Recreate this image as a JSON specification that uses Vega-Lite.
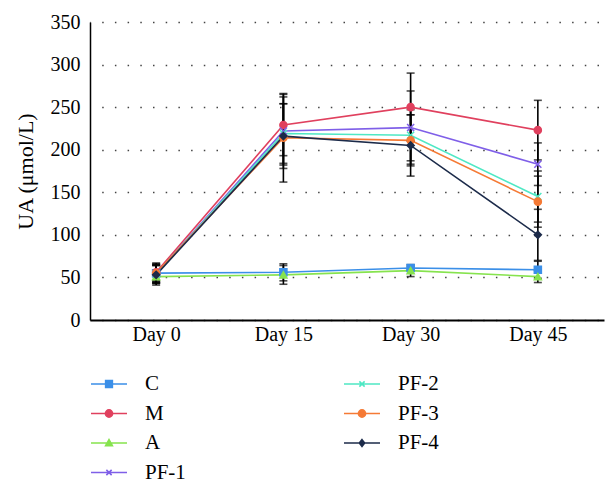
{
  "$schema": "https://vega.github.io/schema/vega-lite/v6.json",
  "width": 514,
  "height": 298,
  "autosize": "none",
  "padding": {"left": 90, "top": 22, "right": 10, "bottom": 171},
  "config": {"view": {"stroke": null}, "font": "Liberation Serif"},
  "data": {
    "values": [
      {"group": "C", "day": "Day 0", "v": 55, "sd": 12},
      {"group": "C", "day": "Day 15", "v": 56, "sd": 10},
      {"group": "C", "day": "Day 30", "v": 61, "sd": 2},
      {"group": "C", "day": "Day 45", "v": 59, "sd": 10},
      {"group": "M", "day": "Day 0", "v": 56, "sd": 10},
      {"group": "M", "day": "Day 15", "v": 229, "sd": 36},
      {"group": "M", "day": "Day 30", "v": 250, "sd": 40},
      {"group": "M", "day": "Day 45", "v": 223, "sd": 35},
      {"group": "A", "day": "Day 0", "v": 51, "sd": 8},
      {"group": "A", "day": "Day 15", "v": 53, "sd": 11},
      {"group": "A", "day": "Day 30", "v": 58, "sd": 7},
      {"group": "A", "day": "Day 45", "v": 51, "sd": 7},
      {"group": "PF-1", "day": "Day 0", "v": 54, "sd": 10},
      {"group": "PF-1", "day": "Day 15", "v": 222, "sd": 40},
      {"group": "PF-1", "day": "Day 30", "v": 226, "sd": 43},
      {"group": "PF-1", "day": "Day 45", "v": 183, "sd": 25},
      {"group": "PF-2", "day": "Day 0", "v": 54, "sd": 10},
      {"group": "PF-2", "day": "Day 15", "v": 219, "sd": 35},
      {"group": "PF-2", "day": "Day 30", "v": 217, "sd": 30},
      {"group": "PF-2", "day": "Day 45", "v": 145, "sd": 30},
      {"group": "PF-3", "day": "Day 0", "v": 55, "sd": 10},
      {"group": "PF-3", "day": "Day 15", "v": 214, "sd": 52},
      {"group": "PF-3", "day": "Day 30", "v": 211, "sd": 30},
      {"group": "PF-3", "day": "Day 45", "v": 139, "sd": 30},
      {"group": "PF-4", "day": "Day 0", "v": 53, "sd": 12},
      {"group": "PF-4", "day": "Day 15", "v": 216, "sd": 38},
      {"group": "PF-4", "day": "Day 30", "v": 205, "sd": 36},
      {"group": "PF-4", "day": "Day 45", "v": 100, "sd": 30}
    ]
  },
  "encoding": {
    "x": {
      "field": "day",
      "type": "ordinal",
      "sort": ["Day 0", "Day 15", "Day 30", "Day 45"],
      "scale": {"type": "point", "padding": 0.52},
      "axis": {
        "title": null,
        "labelAngle": 0,
        "ticks": false,
        "labelFontSize": 20,
        "labelColor": "black",
        "labelPadding": 4,
        "domainColor": "black",
        "domainWidth": 2,
        "grid": false
      }
    },
    "y": {
      "field": "v",
      "type": "quantitative",
      "scale": {"domain": [0, 350]},
      "axis": {
        "title": "UA (μmol/L)",
        "titleFontSize": 22,
        "titleFontWeight": "normal",
        "titleColor": "black",
        "titlePadding": 13,
        "values": [0, 50, 100, 150, 200, 250, 300, 350],
        "ticks": false,
        "labelFontSize": 20,
        "labelColor": "black",
        "labelPadding": 10,
        "domainColor": "black",
        "domainWidth": 1.5,
        "grid": true,
        "gridColor": "#444444",
        "gridWidth": 1.3,
        "gridDash": [1.5, 11.2],
        "gridDashOffset": 1
      }
    },
    "color": {
      "field": "group",
      "type": "nominal",
      "scale": {
        "domain": ["C", "M", "A", "PF-1", "PF-2", "PF-3", "PF-4"],
        "range": ["#3b8fe8", "#e0405e", "#86e34e", "#7f5fe8", "#4fe8c4", "#f57a35", "#1c2b4a"]
      },
      "legend": {
        "orient": "none",
        "legendX": 6,
        "legendY": 349,
        "columns": 2,
        "columnPadding": 154,
        "rowPadding": 6.5,
        "symbolSize": 576,
        "symbolStrokeWidth": 1.6,
        "labelFontSize": 21,
        "labelFont": "Liberation Serif",
        "labelColor": "black",
        "labelOffset": 23,
        "title": null,
        "padding": 0,
        "encode": {
          "symbols": {
            "update": {
              "shape": {"signal": "datum.value == 'C' ? 'M-1.5,0H1.5M-0.28,-0.28H0.28V0.28H-0.28Z' : datum.value == 'M' || datum.value == 'PF-3' ? 'M-1.5,0H1.5M-0.3,0A0.3,0.3 0 1,0 0.3,0A0.3,0.3 0 1,0 -0.3,0Z' : datum.value == 'A' ? 'M-1.5,0H1.5M0,-0.28L0.28,0.22H-0.28Z' : datum.value == 'PF-4' ? 'M-1.5,0H1.5M0,-0.28L0.22,0L0,0.28L-0.22,0Z' : 'M-1.5,0H1.5M-0.22,-0.22L0.22,0.22M-0.22,0.22L0.22,-0.22'"},
              "stroke": {"signal": "scale('color', datum.value)"},
              "strokeWidth": {"value": 1.6},
              "opacity": {"value": 1}
            }
          }
        }
      }
    }
  },
  "layer": [
    {
      "mark": {"type": "line", "strokeWidth": 1.6}
    },
    {
      "mark": {
        "type": "errorbar",
        "color": "black",
        "thickness": 1.6,
        "ticks": {"size": 8, "color": "black", "strokeWidth": 1.6}
      },
      "encoding": {
        "yError": {"field": "sd"},
        "detail": {"field": "group"},
        "color": {"value": "black"}
      }
    },
    {
      "mark": {"type": "point", "filled": true, "size": 50, "strokeWidth": 1.5, "opacity": 1},
      "encoding": {
        "shape": {
          "field": "group",
          "type": "nominal",
          "scale": {
            "domain": ["PF-4", "C", "M", "A", "PF-1", "PF-2", "PF-3"],
            "range": ["diamond", "square", "circle", "triangle-up", "M-1,-1L1,1M-1,1L1,-1", "M-1,-1L1,1M-1,1L1,-1", "circle"]
          },
          "legend": null
        },
        "stroke": {
          "field": "group",
          "type": "nominal",
          "scale": {
            "domain": ["PF-3", "C", "M", "A", "PF-1", "PF-2", "PF-4"],
            "range": ["#f57a35", "#3b8fe8", "#e0405e", "#86e34e", "#7f5fe8", "#4fe8c4", "#1c2b4a"]
          },
          "legend": null
        }
      }
    }
  ]
}
